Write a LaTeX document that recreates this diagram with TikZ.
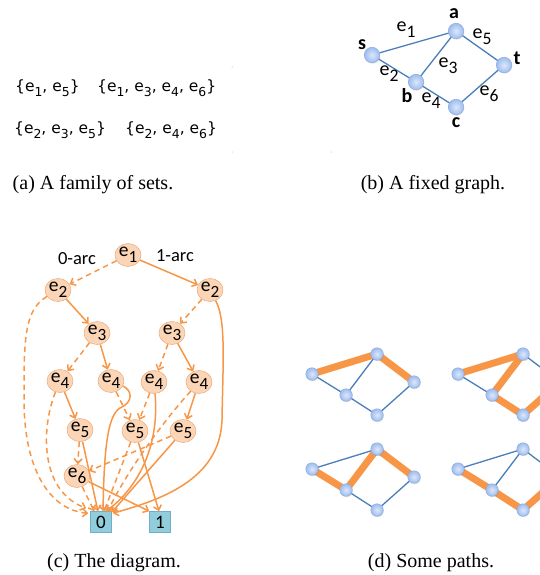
\documentclass[tikz,border=0pt]{standalone}
\usepackage{graphicx}
\usepackage{fontspec}
\setmainfont{Liberation Serif}
\newfontfamily\calfont{Carlito}
\newfontfamily\vfont{DejaVu Sans}
\usetikzlibrary{arrows.meta,shapes.geometric,shadows,calc}
\definecolor{orng}{HTML}{F79646}
\definecolor{pfill}{HTML}{FBD5B5}
\definecolor{pdraw}{HTML}{E9A97A}
\definecolor{gblue}{HTML}{4A7EBB}
\definecolor{boxfill}{HTML}{92CDDC}
\definecolor{boxdraw}{HTML}{6FB0C8}
\definecolor{nin}{HTML}{DCE7FA}
\definecolor{nout}{HTML}{9EBDEE}
\definecolor{ndraw}{HTML}{8EADE3}
\newcommand\lsub[2][0.88]{\raisebox{-0.3em}{\scalebox{#1}{#2}}}
\pgfdeclarelayer{bg}
\pgfsetlayers{bg,main}
\tikzset{
  gnode/.style={circle, minimum size=15.5pt, inner sep=0pt, inner color=nin, outer color=nout,
    draw=ndraw, line width=0.5pt, drop shadow={opacity=0.25, shadow xshift=0.6pt, shadow yshift=-0.9pt}},
  snode/.style={gnode, minimum size=12.5pt},
  gedge/.style={draw=gblue, line width=1.3pt},
  hedge/.style={draw=orng, line width=7pt, line cap=butt},
  glab/.style={font=\calfont\fontsize{20}{22}\selectfont, inner sep=0pt},
  vlab/.style={font=\calfont\bfseries\fontsize{20}{22}\selectfont, inner sep=0pt},
  dnode/.style={ellipse, minimum width=26pt, minimum height=23pt, inner sep=0pt, fill=pfill,
    draw=pdraw, line width=0.5pt, font=\calfont\fontsize{19.5}{21}\selectfont},
  bnode/.style={rectangle, minimum size=21pt, inner sep=0pt, fill=boxfill, draw=boxdraw,
    line width=0.5pt, font=\calfont\fontsize{19}{21}\selectfont},
  arr/.style={draw=orng, line width=1.5pt, -{Straight Barb[length=4.5pt,width=8pt]}},
  zarr/.style={arr, dash pattern=on 5.5pt off 4pt},
  setf/.style={font=\vfont\fontsize{15.5}{18}\selectfont, inner sep=0pt, anchor=west},
  capf/.style={font=\fontsize{20}{24}\selectfont, inner sep=0pt},
  arcl/.style={font=\calfont\fontsize{18.5}{20}\selectfont, inner sep=0pt},
}
\newcommand\pgraph[4]{%
  \begin{scope}[shift={(#2,#3)}]
    \node[snode] (#1s) at (0,0) {};
    \node[snode] (#1a) at (65,-20) {};
    \node[snode] (#1b) at (34,21) {};
    \node[snode] (#1c) at (65,41) {};
    \node[snode] (#1t) at (102,8) {};
  \end{scope}
  \begin{pgfonlayer}{bg}
    \foreach \u/\v in {s/a,s/b,a/b,a/t,b/c,c/t} \draw[gedge] (#1\u.center) -- (#1\v.center);
    \foreach \u/\v in {#4} \draw[hedge] (#1\u.center) -- (#1\v.center);
  \end{pgfonlayer}
}
\begin{document}
\begin{tikzpicture}[x=1pt,y=-1pt]
\path[use as bounding box] (0,0) rectangle (539,575);
\clip (0,0) rectangle (539,575);

% (a) family of sets
\node[setf] (s1) at (15,88) {\{e\lsub[0.8]{1}, e\lsub[0.8]{5}\}};
\node[setf] (s2) at (97,88) {\{e\lsub[0.8]{1}, e\lsub[0.8]{3}, e\lsub[0.8]{4}, e\lsub[0.8]{6}\}};
\node[setf] (s3) at (14,130) {\{e\lsub[0.8]{2}, e\lsub[0.8]{3}, e\lsub[0.8]{5}\}};
\node[setf] (s4) at (125,130) {\{e\lsub[0.8]{2}, e\lsub[0.8]{4}, e\lsub[0.8]{6}\}};
\fill[gblue!70] (232,67) circle (0.5);
\fill[gblue!70] (232,152) circle (0.5);
\fill[gblue!70] (331,152) circle (0.5);
\node[capf] (ca) at (93,185) {(a) A family of sets.};

% (b) fixed graph
\node[gnode] (s) at (372,55) {};
\node[gnode] (a) at (456,31) {};
\node[gnode] (b) at (416,82) {};
\node[gnode] (c) at (456,107) {};
\node[gnode] (t) at (504,65) {};
\begin{pgfonlayer}{bg}
\draw[gedge] (s.center) -- (a.center);
\draw[gedge] (a.center) -- (t.center);
\draw[gedge] (a.center) -- (b.center);
\draw[gedge] (s.center) -- (b.center);
\draw[gedge] (b.center) -- (c.center);
\draw[gedge] (c.center) -- (t.center);
\end{pgfonlayer}
\node[vlab] (la) at (454,14) {a};
\node[vlab] (ls) at (362,45) {s};
\node[vlab] (lt) at (517,58) {t};
\node[vlab] (lb) at (407,96) {b};
\node[vlab] (lc) at (456,123) {c};
\node[glab] (l1) at (406,30) {e\lsub{1}};
\node[glab] (l5) at (482,37) {e\lsub{5}};
\node[glab] (l3) at (448,66) {e\lsub{3}};
\node[glab] (l2) at (389,74) {e\lsub{2}};
\node[glab] (l4) at (431,101) {e\lsub{4}};
\node[glab] (l6) at (489,94) {e\lsub{6}};
\node[capf] (cb) at (433,185) {(b) A fixed graph.};

% (c) diagram
\node[dnode] (e1) at (128,255) {e\lsub{1}};
\node[dnode] (e2a) at (58,290) {e\lsub{2}};
\node[dnode] (e2b) at (210,290) {e\lsub{2}};
\node[dnode] (e3a) at (97,333) {e\lsub{3}};
\node[dnode] (e3b) at (172,333) {e\lsub{3}};
\node[dnode] (e4a) at (60,381) {e\lsub{4}};
\node[dnode] (e4b) at (111,381) {e\lsub{4}};
\node[dnode] (e4c) at (154,382) {e\lsub{4}};
\node[dnode] (e4d) at (199,382) {e\lsub{4}};
\node[dnode] (e5a) at (80,430) {e\lsub{5}};
\node[dnode] (e5b) at (135,431) {e\lsub{5}};
\node[dnode] (e5c) at (183,431) {e\lsub{5}};
\node[dnode] (e6) at (77,476) {e\lsub{6}};
\node[bnode] (z) at (101,522) {0};
\node[bnode] (o) at (160,522) {1};
\node[arcl] (arc0) at (77,259) {0-arc};
\node[arcl] (arc1) at (175,256) {1-arc};

\draw[zarr] (e1) -- (e2a);
\draw[arr] (e1) -- (e2b);
\draw[arr] (e2a) -- (e3a);
\draw[zarr] (e2b) -- (e3b);
\draw[zarr] (e3a) -- (e4a);
\draw[arr] (e3a) -- (e4b);
\draw[zarr] (e3b) -- (e4c);
\draw[arr] (e3b) -- (e4d);
\draw[arr] (e4a) -- (e5a);
\draw[zarr] (e4b) -- (e5b);
\draw[zarr] (e4c) -- (e5b);
\draw[arr] (e4d) -- (e5c);
\draw[zarr] (e5a) -- (e6);
\draw[zarr] (e5c) -- (e6);

\draw[zarr] (e2a) .. controls (24,310) and (24,340) .. (24,400) .. controls (24,470) and (50,510) .. ($(z.north west)+(-2,2)$);
\draw[zarr] (e4a) .. controls (42,425) and (38,490) .. ($(z.north west)+(-4,-3)$);
\draw[arr] (e2b) .. controls (226,320) and (223,360) .. (222,420) .. controls (220,480) and (160,500) .. ($(z.north east)+(1,2)$);
\draw[arr] (e4b) .. controls (132,390) and (134,402) .. (120,408) .. controls (106,416) and (104,460) .. ($(z.north)+(2,0)$);
\draw[arr] (e5a) -- ($(z.north)+(-3,0)$);
\draw[zarr] (e6) -- ($(z.north west)+(4,0)$);
\draw[zarr] (e5b) -- ($(z.north)+(3,0)$);
\draw[arr] (e4c) .. controls (160,450) and (135,490) .. ($(z.north)+(5,0)$);
\draw[zarr] (e4d) .. controls (160,425) and (125,475) .. ($(z.north east)+(-4,0)$);
\draw[arr] (e5c) -- ($(z.north east)+(0,1)$);
\draw[arr] (e5b) -- ($(o.north)+(-1,0)$);
\draw[arr] (e6) -- (o.north west);
\node[capf] (cc) at (114,563) {(c) The diagram.};

% (d) some paths
\pgraph{p}{312}{374}{s/a,a/t}
\pgraph{q}{458}{374}{s/a,a/b,b/c,c/t}
\pgraph{r}{312}{469}{s/b,b/a,a/t}
\pgraph{u}{458}{469}{s/b,b/c,c/t}
\node[capf] (cd) at (431,563) {(d) Some paths.};
\end{tikzpicture}
\end{document}
